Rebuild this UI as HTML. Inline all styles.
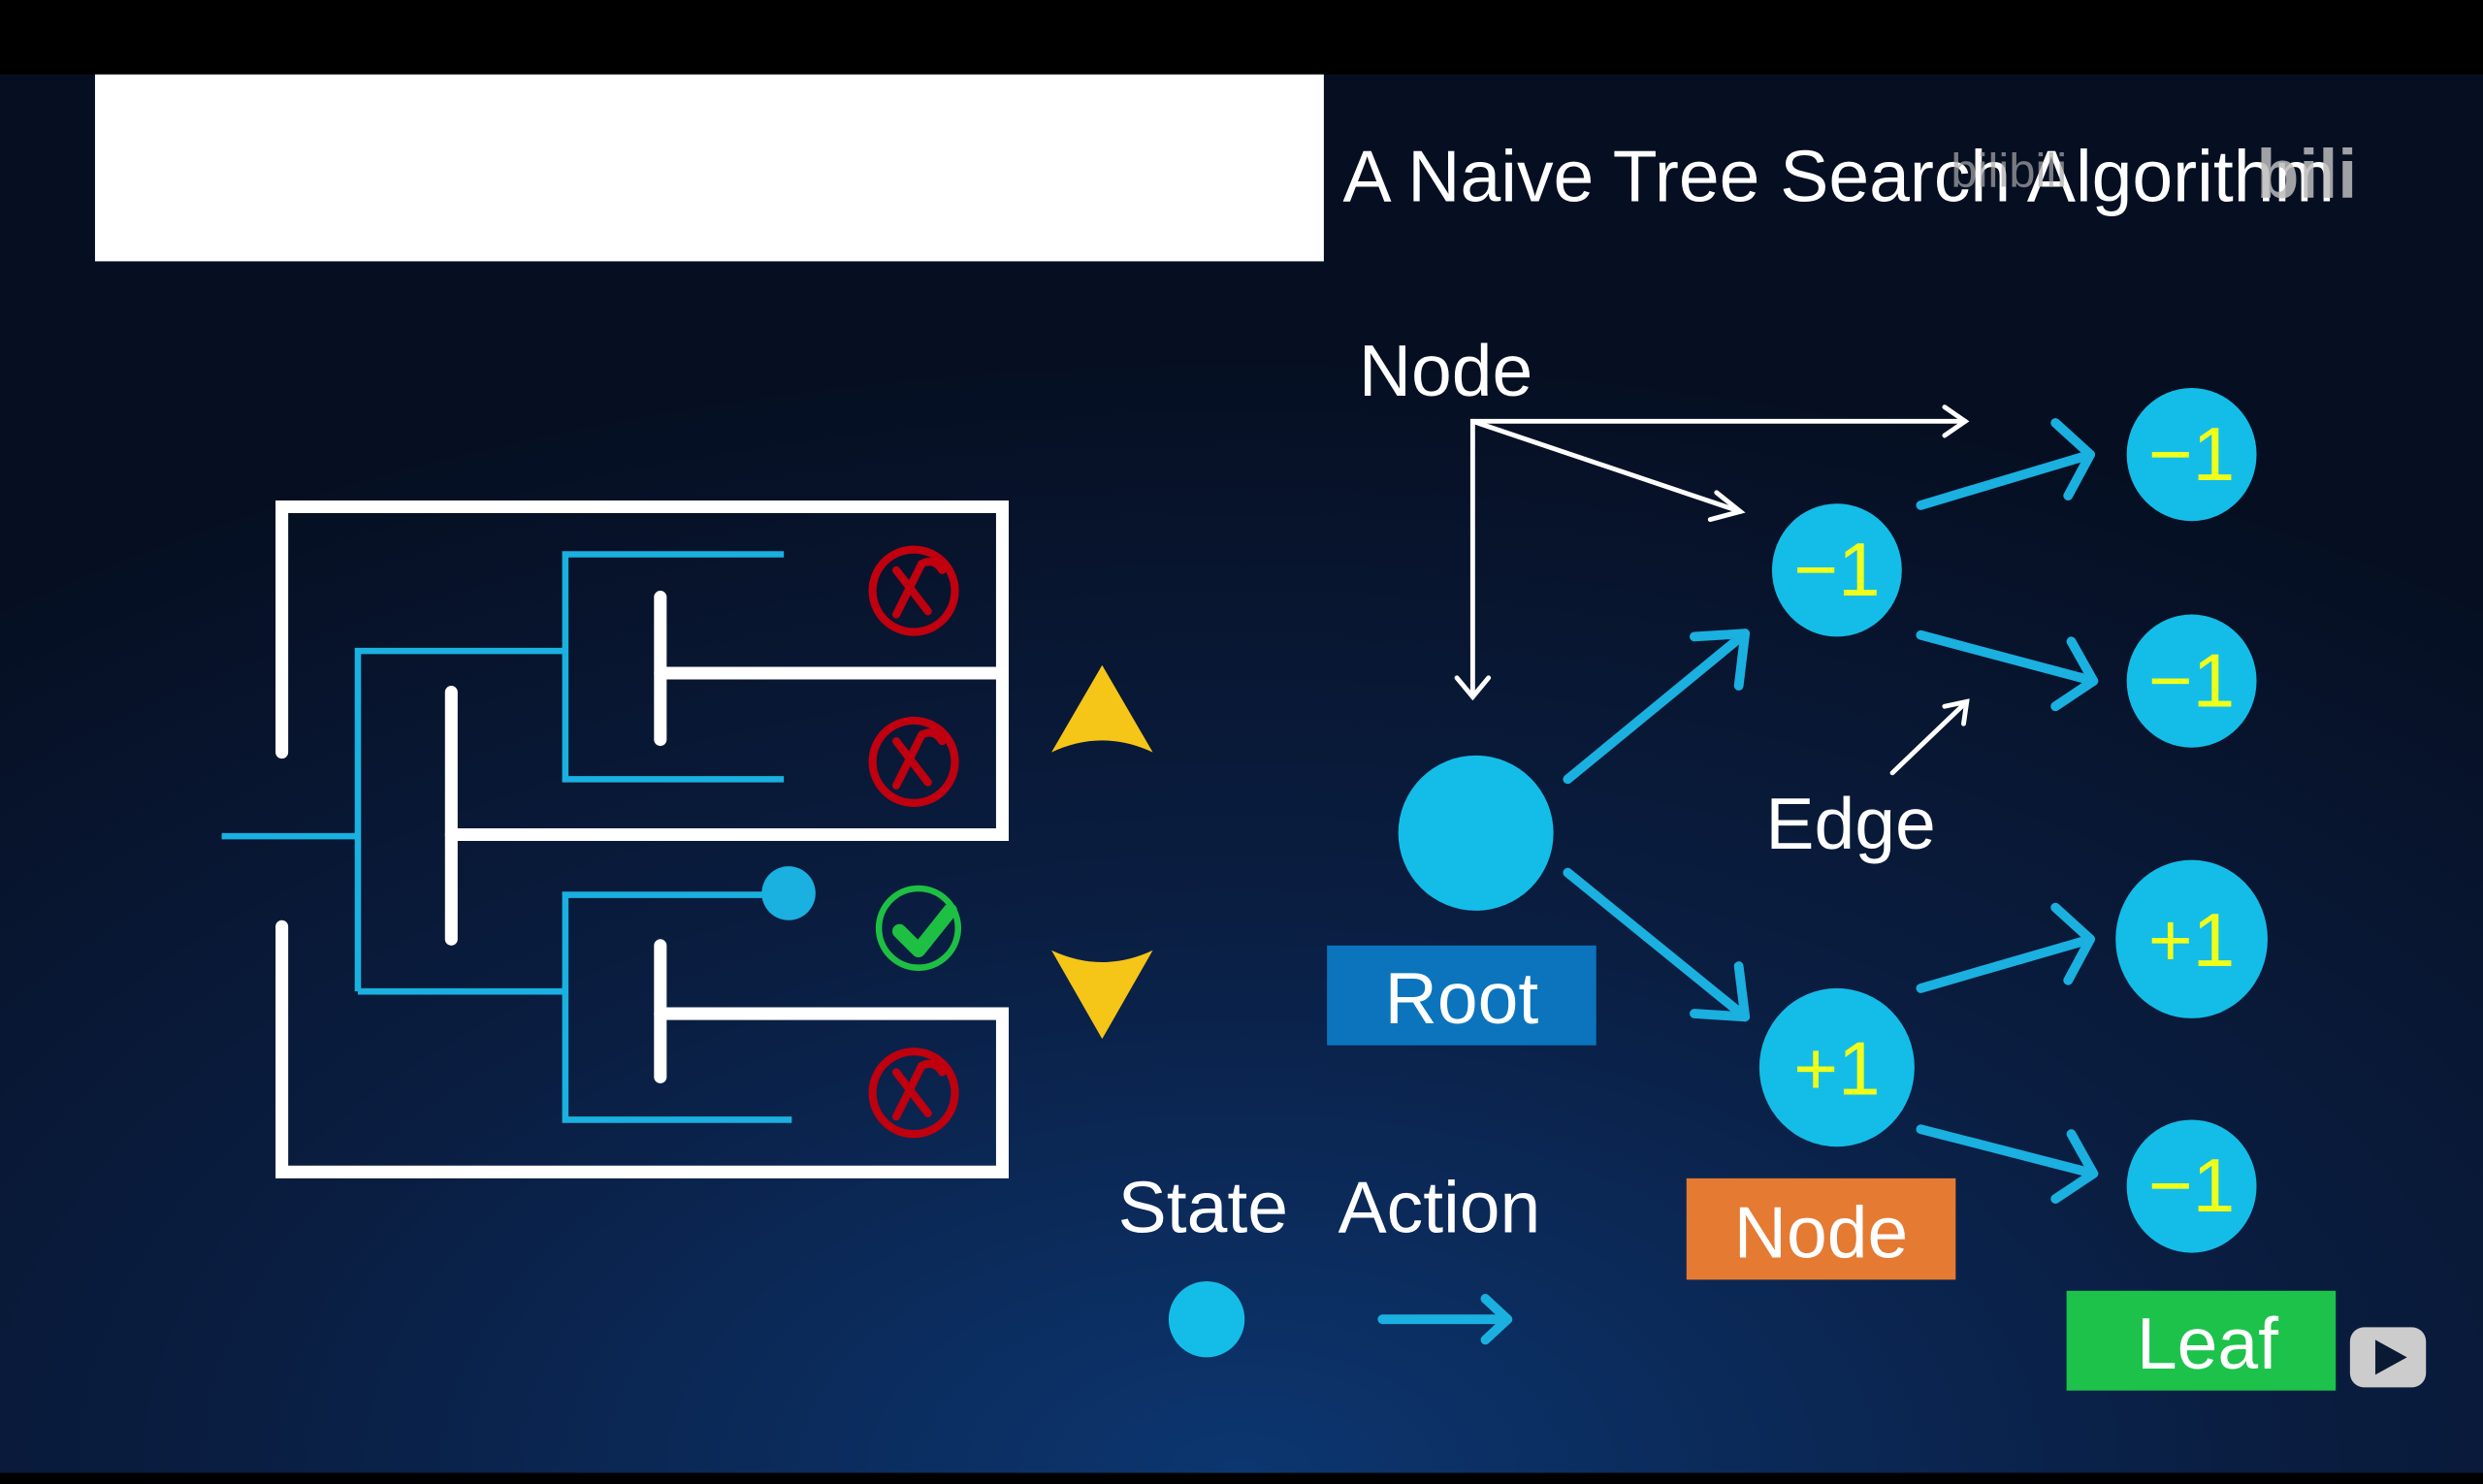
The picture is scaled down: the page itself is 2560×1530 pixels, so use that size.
<!DOCTYPE html>
<html><head><meta charset="utf-8"><style>
html,body{margin:0;padding:0;background:#000;}
svg{display:block;}
text{font-family:"Liberation Sans",sans-serif;}
</style></head><body>
<svg width="2560" height="1530" viewBox="0 0 1568 937" preserveAspectRatio="none" xmlns="http://www.w3.org/2000/svg">
<defs>
<radialGradient id="bg" cx="0.5" cy="1.0" r="0.8">
<stop offset="0" stop-color="#0c3670"/>
<stop offset="0.5" stop-color="#0a1e42"/>
<stop offset="1" stop-color="#060f22"/>
</radialGradient>
</defs>
<rect width="1568" height="937" fill="#000"/>
<rect y="47" width="1568" height="883" fill="url(#bg)"/>
<rect x="60" y="47" width="776" height="118" fill="#fff"/>
<text x="848" y="127" font-size="46" fill="#fff">A Naive Tree Search Algorithm</text>
<text x="1232" y="118" font-size="30" fill="#aaa" opacity="0.7">bilibili</text>
<text x="1425" y="125" font-size="44" font-weight="bold" fill="#bbb" opacity="0.85">bili</text>

<g stroke="#fff" stroke-width="8" fill="none" stroke-linecap="round">
<polyline points="178,475 178,320 633,320 633,527 285,527"/>
<line x1="285" y1="437" x2="285" y2="593"/>
<line x1="417" y1="425" x2="633" y2="425"/>
<line x1="417" y1="377" x2="417" y2="467"/>
<polyline points="178,585 178,740 633,740 633,640 417,640"/>
<line x1="417" y1="597" x2="417" y2="680"/>
</g>
<g stroke="#1ab0e0" stroke-width="4" fill="none">
<line x1="140" y1="528" x2="226" y2="528"/>
<polyline points="226,626 226,411 357,411"/>
<polyline points="495,350 357,350 357,492 495,492"/>
<line x1="226" y1="626" x2="357" y2="626"/>
<polyline points="498,565 357,565 357,707 500,707"/>
</g>
<circle cx="498" cy="564" r="17" fill="#1ab0e0"/>
<g stroke="#c0000f" stroke-width="5" fill="none" stroke-linecap="round">
<circle cx="577" cy="373" r="26"/><path d="M566 360 L586 386 M566 388 L582 356 Q590 352 595 360"/>
<circle cx="577" cy="481" r="26"/><path d="M566 468 L586 494 M566 496 L582 464 Q590 460 595 468"/>
<circle cx="577" cy="690" r="26"/><path d="M566 677 L586 703 M566 705 L582 673 Q590 669 595 677"/>
</g>
<circle cx="580" cy="586" r="25" stroke="#1dc042" stroke-width="4" fill="none"/>
<path d="M568 588 L580 600 L600 575" stroke="#1dc042" stroke-width="9" fill="none" stroke-linecap="round" stroke-linejoin="round"/>
<path d="M696 420 L728 475 Q696 460 664 475 Z" fill="#f5c518"/>
<path d="M664 600 Q696 615 728 600 L696 656 Z" fill="#f5c518"/>

<g stroke="#1ab0e0" stroke-width="6" fill="none" stroke-linecap="round" stroke-linejoin="round">
<line x1="990" y1="492" x2="1102" y2="400"/><polyline points="1070,402 1102,400 1098,433"/>
<line x1="990" y1="551" x2="1102" y2="642"/><polyline points="1098,610 1102,642 1070,640"/>
<line x1="1213" y1="319" x2="1320" y2="287"/><polyline points="1298,267 1320,287 1306,313"/>
<line x1="1213" y1="401" x2="1322" y2="430"/><polyline points="1308,405 1322,430 1298,446"/>
<line x1="1213" y1="624" x2="1320" y2="593"/><polyline points="1298,573 1320,593 1306,619"/>
<line x1="1213" y1="713" x2="1322" y2="741"/><polyline points="1308,716 1322,741 1298,757"/>
<line x1="873" y1="833" x2="952" y2="833"/><polyline points="938,820 952,833 938,846"/>
</g>
<g stroke="#fff" stroke-width="3" fill="none" stroke-linecap="round">
<polyline points="930,440 930,266 1241,266"/><polyline points="1228,257 1241,266 1228,275"/>
<line x1="930" y1="266" x2="1099" y2="323"/><polyline points="1084,311 1099,323 1080,328"/>
<polyline points="920,428 930,440 940,428"/>
<line x1="1195" y1="488" x2="1242" y2="443"/><polyline points="1228,446 1242,443 1240,457"/>
</g>
<g fill="#14bde8">
<ellipse cx="932" cy="526" rx="49" ry="49"/>
<ellipse cx="1160" cy="360" rx="41" ry="42"/>
<ellipse cx="1160" cy="674" rx="49" ry="50"/>
<ellipse cx="1384" cy="287" rx="41" ry="42"/>
<ellipse cx="1384" cy="430" rx="41" ry="42"/>
<ellipse cx="1384" cy="593" rx="48" ry="50"/>
<ellipse cx="1384" cy="749" rx="41" ry="42"/>
<circle cx="762" cy="833" r="24"/>
</g>
<g font-size="48" fill="#f0ff1a" text-anchor="middle">
<text x="1160" y="376">−1</text>
<text x="1160" y="691">+1</text>
<text x="1384" y="303">−1</text>
<text x="1384" y="446">−1</text>
<text x="1384" y="610">+1</text>
<text x="1384" y="765">−1</text>
</g>
<rect x="838" y="597" width="170" height="63" fill="#0c74bd"/>
<text x="923" y="646" font-size="46" fill="#fff" text-anchor="middle">Root</text>
<rect x="1065" y="744" width="170" height="64" fill="#e57a32"/>
<text x="1150" y="794" font-size="46" fill="#fff" text-anchor="middle">Node</text>
<rect x="1305" y="815" width="170" height="63" fill="#1dc24b"/>
<text x="1394" y="864" font-size="46" fill="#fff" text-anchor="middle">Leaf</text>
<text x="858" y="250" font-size="46" fill="#fff">Node</text>
<text x="1115" y="536" font-size="46" fill="#fff">Edge</text>
<text x="706" y="778" font-size="46" fill="#fff">State</text>
<text x="845" y="778" font-size="46" fill="#fff">Action</text>
<rect x="1484" y="838" width="48" height="38" rx="9" fill="#ccc"/>
<path d="M1500 846 L1520 857 L1500 868 Z" fill="#0b1a33"/>
<rect y="930" width="1568" height="7" fill="#000"/>
</svg>
</body></html>
